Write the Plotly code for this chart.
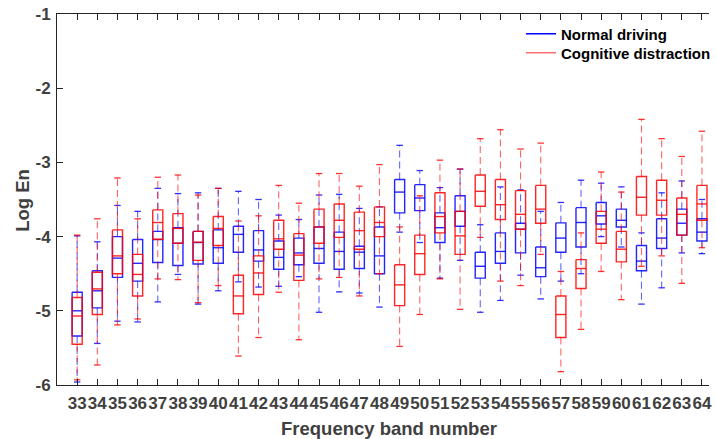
import plotly.graph_objects as go

bands = list(range(33, 65))
tick_labels = [str(b) for b in bands]
y_ticks = [-6, -5, -4, -3, -2, -1]

# Normal driving (blue): upper whisker, Q3, median, Q1, lower whisker
normal_upper = [-3.99, -4.07, -3.58, -3.66, -3.35, -3.42, -3.41, -3.35, -3.39, -3.50, -3.71, -3.77,
                -3.44, -3.43, -3.62, -3.60, -2.77, -3.11, -3.34, -3.09, -3.84, -3.33, -3.37, -3.66,
                -3.54, -3.24, -3.28, -3.33, -3.95, -3.41, -3.25, -3.50]
normal_q3 = [-4.75, -4.46, -4.00, -4.04, -3.93, -3.88, -3.93, -3.91, -3.86, -3.92, -4.06, -4.02,
             -3.87, -3.94, -4.13, -3.87, -3.23, -3.30, -3.68, -3.45, -4.21, -3.95, -3.82, -4.14,
             -3.815, -3.61, -3.54, -3.63, -4.12, -3.76, -3.63, -3.76]
normal_median = [-5.00, -4.73, -4.29, -4.36, -4.04, -4.09, -4.08, -4.15, -3.97, -4.18, -4.28, -4.22,
                 -4.16, -4.20, -4.21, -4.26, -3.40, -3.48, -3.88, -3.66, -4.40, -4.20, -3.90, -4.42,
                 -4.02, -3.81, -3.72, -3.78, -4.33, -4.02, -3.82, -3.94]
normal_q1 = [-5.34, -4.96, -4.55, -4.60, -4.35, -4.39, -4.37, -4.36, -4.21, -4.33, -4.44, -4.38,
             -4.36, -4.44, -4.43, -4.50, -3.68, -3.65, -4.08, -3.86, -4.56, -4.36, -4.22, -4.54,
             -4.21, -4.14, -3.83, -3.87, -4.46, -4.16, -3.98, -4.06]
normal_lower = [-5.96, -5.44, -5.14, -5.15, -4.88, -4.51, -4.91, -4.73, -4.61, -4.68, -4.67, -4.54,
                -5.02, -4.745, -4.76, -4.95, -3.94, -4.08, -4.56, -4.32, -5.02, -4.86, -4.52, -4.84,
                -4.60, -4.50, -4.00, -4.14, -4.91, -4.69, -4.22, -4.23]

# Cognitive distraction (red)
distr_upper = [-3.98, -3.76, -3.21, -3.76, -3.20, -3.17, -3.44, -3.35, -3.79, -3.72, -3.31, -3.55,
               -3.15, -3.15, -3.32, -3.03, -3.87, -3.45, -2.97, -3.09, -2.68, -2.56, -2.82, -2.74,
               -4.47, -3.95, -3.13, -3.40, -2.42, -2.68, -2.92, -2.58]
distr_q3 = [-4.82, -4.48, -3.91, -4.24, -3.64, -3.69, -3.93, -3.73, -4.52, -4.26, -3.78, -3.96,
            -3.63, -3.56, -3.67, -3.60, -4.38, -3.98, -3.41, -3.66, -3.17, -3.23, -3.38, -3.31,
            -4.80, -4.31, -3.66, -3.93, -3.19, -3.24, -3.48, -3.31]
distr_median = [-5.07, -4.705, -4.26, -4.51, -3.81, -3.89, -4.075, -3.89, -4.80, -4.49, -4.03, -4.25,
                -3.87, -3.78, -3.92, -3.81, -4.65, -4.23, -3.73, -3.99, -3.39, -3.57, -3.70, -3.63,
                -5.05, -4.43, -3.90, -4.17, -3.47, -3.51, -3.70, -3.56]
distr_q1 = [-5.45, -5.05, -4.50, -4.80, -4.035, -4.09, -4.32, -4.12, -5.04, -4.78, -4.17, -4.59,
            -4.09, -4.01, -4.17, -4.00, -4.93, -4.51, -3.95, -4.24, -3.59, -3.77, -3.90, -3.82,
            -5.36, -4.70, -4.09, -4.34, -3.71, -3.71, -3.98, -3.78]
distr_lower = [-5.93, -5.73, -5.19, -5.11, -4.57, -4.58, -4.89, -4.66, -5.61, -5.36, -4.75, -5.39,
               -4.57, -4.55, -4.80, -4.50, -5.48, -5.05, -4.57, -4.98, -4.01, -4.60, -4.66, -4.24,
               -5.82, -5.25, -4.47, -4.85, -4.40, -4.26, -4.63, -4.15]

FONT = "Liberation Sans, Arial, sans-serif"
HALF_W = 0.25   # half box width (band units)
CAP_W = 0.16    # half cap width


def box_traces(name, color, legend_color, legend_id, up, q3, med, q1, lo):
    bx, by, mx, my, wx, wy, cx, cy = [], [], [], [], [], [], [], []
    for b, u, a, m, c, l in zip(bands, up, q3, med, q1, lo):
        bx += [b - HALF_W, b + HALF_W, b + HALF_W, b - HALF_W, b - HALF_W, None]
        by += [a, a, c, c, a, None]
        mx += [b - HALF_W, b + HALF_W, None]
        my += [m, m, None]
        wx += [b, b, None, b, b, None]
        wy += [a, u, None, c, l, None]
        cx += [b - CAP_W, b + CAP_W, None, b - CAP_W, b + CAP_W, None]
        cy += [u, u, None, l, l, None]
    return [
        go.Scatter(x=wx, y=wy, mode="lines", showlegend=False, hoverinfo="skip",
                   line=dict(color=color, width=1.1, dash="7px,4px"), opacity=0.6),
        go.Scatter(x=cx, y=cy, mode="lines", showlegend=False, hoverinfo="skip",
                   line=dict(color=color, width=1.3), opacity=0.8),
        go.Scatter(x=bx, y=by, mode="lines", showlegend=False, hoverinfo="skip",
                   line=dict(color=color, width=1.4), opacity=0.85),
        go.Scatter(x=mx, y=my, mode="lines", showlegend=False, hoverinfo="skip",
                   line=dict(color=color, width=1.4), opacity=0.85),
        go.Scatter(x=[None], y=[None], mode="lines", name=name, legend=legend_id,
                   line=dict(color=legend_color, width=1.5)),
    ]


fig = go.Figure()
for tr in box_traces("Normal driving", "rgb(0,0,255)", "rgb(0,0,255)", "legend",
                     normal_upper, normal_q3, normal_median, normal_q1, normal_lower):
    fig.add_trace(tr)
for tr in box_traces("Cognitive distraction", "rgb(255,0,0)", "rgb(255,110,110)", "legend2",
                     distr_upper, distr_q3, distr_median, distr_q1, distr_lower):
    fig.add_trace(tr)

axis_col = "#262626"
tick_font = dict(family=FONT, size=17, color="#404040", weight="bold")
legend_font = dict(family=FONT, size=15, color="black", weight="bold")
leg_common = dict(xanchor="left", yanchor="middle", bgcolor="rgba(0,0,0,0)",
                  borderwidth=0, font=legend_font)

fig.update_layout(
    width=716, height=439,
    margin=dict(l=57, r=0, t=14, b=54, pad=0),
    paper_bgcolor="white", plot_bgcolor="white",
    xaxis=dict(range=[32, 64.35], tickvals=bands, ticktext=tick_labels, tickangle=0,
               ticks="inside", ticklen=6, tickcolor=axis_col, tickwidth=1,
               showline=True, linecolor=axis_col, linewidth=1, mirror="ticks",
               showgrid=False, zeroline=False, tickfont=tick_font, ticklabelstandoff=3),
    yaxis=dict(range=[-6, -1], tickvals=y_ticks, ticktext=[str(v) for v in y_ticks],
               ticks="inside", ticklen=6, tickcolor=axis_col, tickwidth=1,
               showline=True, linecolor=axis_col, linewidth=1, mirror=False,
               showgrid=False, zeroline=False, tickfont=tick_font, ticklabelstandoff=2),
    legend=dict(x=0.7117, y=0.946, **leg_common),
    legend2=dict(x=0.7117, y=0.895, **leg_common),
    annotations=[
        dict(text="Frequency band number", xref="paper", yref="paper",
             x=0.509, y=-0.116, xanchor="center", yanchor="middle", showarrow=False,
             font=dict(family=FONT, size=18.5, color="#404040", weight="bold")),
        dict(text="Log En", xref="paper", yref="paper", textangle=-90,
             x=-0.0524, y=0.4987, xanchor="center", yanchor="middle", showarrow=False,
             font=dict(family=FONT, size=18.5, color="#404040", weight="bold")),
    ],
)

fig.write_html("out.html", config={"displayModeBar": False},
               post_script="document.body.style.margin='0px';document.body.style.overflow='hidden';")
